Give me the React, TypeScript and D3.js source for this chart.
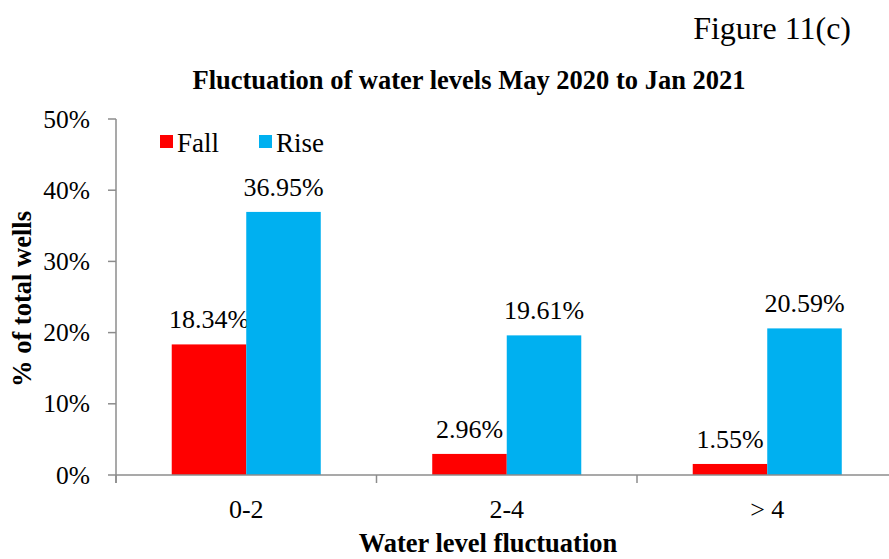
import React, { useEffect, useRef } from 'react';
import * as d3 from 'd3';

const categories = ['0-2', '2-4', '> 4'];
const series = ['Fall', 'Rise'];
const fallValues = [18.34, 2.96, 1.55];
const riseValues = [36.95, 19.61, 20.59];
const yTicks = [0, 10, 20, 30, 40, 50];

const colors: Record<string, string> = { Fall: '#FF0000', Rise: '#00B0F0' };

const W = 889;
const H = 559;

export default function App() {
  const ref = useRef<SVGSVGElement>(null);

  useEffect(() => {
    const svg = d3.select(ref.current);
    svg.selectAll('*').remove();

    const font = '"Liberation Serif", "Times New Roman", serif';
    const axisColor = '#8c8c8c';

    const x0 = d3.scaleBand().domain(categories).range([116, 897.5]).padding(0);
    const x1 = d3.scaleBand().domain(series).range([0, x0.bandwidth()]).paddingInner(0).paddingOuter(0.748);
    const y = d3.scaleLinear().domain([0, 50]).range([475, 119]);

    const rows = categories.map((c, i) => ({ cat: c, Fall: fallValues[i], Rise: riseValues[i] }));

    // bars + value labels
    const g = svg.append('g');
    rows.forEach(r => {
      series.forEach(s => {
        const v = (r as any)[s] as number;
        const bx = (x0(r.cat) as number) + (x1(s) as number);
        g.append('rect')
          .attr('x', bx)
          .attr('y', y(v))
          .attr('width', x1.bandwidth())
          .attr('height', y(0) - y(v))
          .attr('fill', colors[s]);
        g.append('text')
          .attr('x', bx + x1.bandwidth() / 2)
          .attr('y', y(v) - 16)
          .attr('text-anchor', 'middle')
          .style('font-family', font)
          .style('font-size', '26px')
          .attr('fill', '#000')
          .text(v.toFixed(2) + '%');
      });
    });

    // y axis
    svg.append('line')
      .attr('x1', 116).attr('x2', 116)
      .attr('y1', y(50)).attr('y2', 483)
      .attr('stroke', axisColor).attr('stroke-width', 1.5);
    yTicks.forEach(t => {
      svg.append('line')
        .attr('x1', 108).attr('x2', 116)
        .attr('y1', y(t)).attr('y2', y(t))
        .attr('stroke', axisColor).attr('stroke-width', 1.5);
      svg.append('text')
        .attr('x', 90).attr('y', y(t) + 8.5)
        .attr('text-anchor', 'end')
        .style('font-family', font).style('font-size', '25.5px')
        .text(t + '%');
    });

    // x axis
    svg.append('line')
      .attr('x1', 116).attr('x2', W)
      .attr('y1', y(0)).attr('y2', y(0))
      .attr('stroke', axisColor).attr('stroke-width', 1.5);
    categories.forEach(c => {
      const bx = x0(c) as number;
      svg.append('line')
        .attr('x1', bx).attr('x2', bx)
        .attr('y1', y(0)).attr('y2', 483)
        .attr('stroke', axisColor).attr('stroke-width', 1.5);
      svg.append('text')
        .attr('x', bx + x0.bandwidth() / 2).attr('y', 518)
        .attr('text-anchor', 'middle')
        .style('font-family', font).style('font-size', '26px')
        .text(c);
    });

    // titles
    svg.append('text')
      .attr('x', 851).attr('y', 39)
      .attr('text-anchor', 'end')
      .style('font-family', font).style('font-size', '32px')
      .text('Figure 11(c)');
    svg.append('text')
      .attr('x', 469).attr('y', 89)
      .attr('text-anchor', 'middle')
      .style('font-family', font).style('font-size', '26.5px').style('font-weight', 'bold')
      .text('Fluctuation of water levels May 2020 to Jan 2021');
    svg.append('text')
      .attr('x', 488).attr('y', 552)
      .attr('text-anchor', 'middle')
      .style('font-family', font).style('font-size', '26.5px').style('font-weight', 'bold')
      .text('Water level fluctuation');
    svg.append('text')
      .attr('transform', 'translate(31,299) rotate(-90)')
      .attr('text-anchor', 'middle')
      .style('font-family', font).style('font-size', '26.5px').style('font-weight', 'bold')
      .text('% of total wells');

    // legend
    const legendX = [160, 259];
    series.forEach((s, i) => {
      svg.append('rect')
        .attr('x', legendX[i]).attr('y', 135)
        .attr('width', 13).attr('height', 13)
        .attr('fill', colors[s]);
      svg.append('text')
        .attr('x', legendX[i] + 17).attr('y', 152)
        .style('font-family', font).style('font-size', '27px')
        .text(s);
    });
  }, []);

  return (
    <div style={{ position: 'absolute', left: 0, top: 0 }}>
      <svg ref={ref} width={W} height={H} style={{ display: 'block', background: '#fff' }} />
    </div>
  );
}
